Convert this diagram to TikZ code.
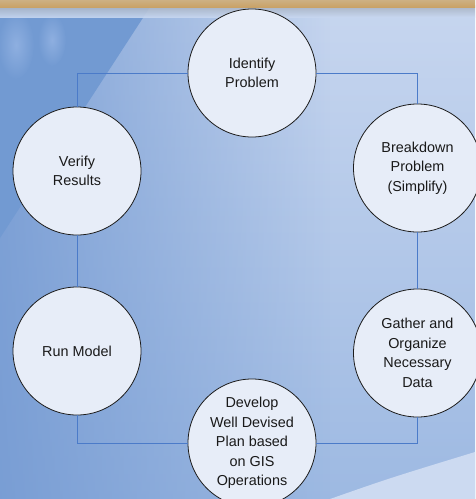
\documentclass[tikz,border=0pt]{standalone}
\usepackage{fontspec}
\setmainfont{Liberation Sans}
\usetikzlibrary{fadings}
\definecolor{bgtop}{HTML}{C7D6EF}
\definecolor{bgbot}{HTML}{9DB9E2}
\definecolor{bgleft}{HTML}{7399D2}
\definecolor{wedge}{HTML}{729AD2}
\definecolor{streak}{HTML}{8EAFE0}
\definecolor{glare}{HTML}{CCDAF1}
\definecolor{bartan}{HTML}{C9A267}
\definecolor{bartop}{HTML}{CDB083}
\definecolor{bargray}{HTML}{A4AEBD}
\definecolor{stepfill}{HTML}{E7EDF8}
\definecolor{stepline}{HTML}{1C1C1C}
\definecolor{linkblue}{HTML}{4B7BC9}
\tikzset{
  stepcircle/.style={circle, minimum size=128pt, inner sep=0pt,
    fill=stepfill, draw=stepline, line width=0.8pt,
    align=center, text=black!90,
    font=\fontsize{14.4}{19.5}\selectfont},
  link/.style={draw=linkblue, line width=1pt}
}
\begin{document}
\begin{tikzpicture}[x=1pt,y=-1pt]
\useasboundingbox (0,0) rectangle (475,499);
\begin{scope}
  \clip (0,0) rectangle (475,499);
  % slide background
  \shade[top color=bgtop, bottom color=bgbot] (0,0) rectangle (475,499);
  \fill[bgleft, path fading=east, opacity=0.85] (0,0) rectangle (330,499);
  % dark diagonal panel in the upper left, with soft light patches
  \fill[wedge] (0,7) -- (150,7) -- (0,238) -- cycle;
  \shade[inner color=streak, outer color=wedge] (16,45) ellipse (18pt and 34pt);
  \shade[inner color=streak, outer color=wedge] (52,40) ellipse (14pt and 26pt);
  % light sweep in the lower right
  \fill[glare] (330,499) .. controls (390,478) .. (475,452) -- (475,499) -- cycle;
  % title bar strip
  \shade[top color=bargray, bottom color=bgtop, opacity=0.9] (0,5) rectangle (475,17);
  \shade[top color=bartop, bottom color=bartan] (0,0) rectangle (475,7);
\end{scope}

% process steps
\node[stepcircle] (ident)   at (252,73)    {Identify\\Problem};
\node[stepcircle] (brk)     at (417.5,168) {Breakdown\\Problem\\(Simplify)};
\node[stepcircle] (gather)  at (417.5,353) {Gather and\\Organize\\Necessary\\Data};
\node[stepcircle] (develop) at (252,443)   {Develop\\Well Devised\\Plan based\\on GIS\\Operations};
\node[stepcircle] (run)     at (77,351)    {Run Model};
\node[stepcircle] (verify)  at (77,171)    {Verify\\Results};

% cycle connectors
\draw[link] (ident.west) -| (verify.north);
\draw[link] (verify.south) -- (run.north);
\draw[link] (run.south) |- (develop.west);
\draw[link] (develop.east) -| (gather.south);
\draw[link] (gather.north) -- (brk.south);
\draw[link] (brk.north) |- (ident.east);
\end{tikzpicture}
\end{document}
